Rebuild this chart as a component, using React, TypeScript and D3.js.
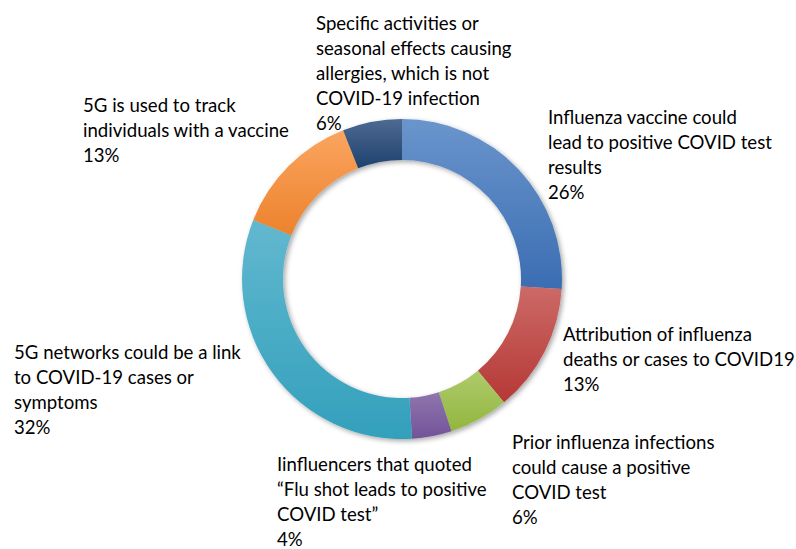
import React, { useEffect, useRef } from "react";
import * as d3 from "d3";

const categories = [
  "Influenza vaccine could lead to positive COVID test results",
  "Attribution of influenza deaths or cases to COVID19",
  "Prior influenza infections could cause a positive COVID test",
  "Iinfluencers that quoted \u201cFlu shot leads to positive COVID test\u201d",
  "5G networks could be a link to COVID-19 cases or symptoms",
  "5G is used to track individuals with a vaccine",
  "Specific activities or seasonal effects causing allergies, which is not COVID-19 infection",
];
const values = [26, 13, 6, 4, 32, 13, 6];

// wrapped label lines as shown in the chart
const labelLines = [
  ["Influenza vaccine could", "lead to positive COVID test", "results"],
  ["Attribution of influenza", "deaths or cases to COVID19"],
  ["Prior influenza infections", "could cause a positive", "COVID test"],
  ["Iinfluencers that quoted", "\u201cFlu shot leads to positive", "COVID test\u201d"],
  ["5G networks could be a link", "to COVID-19 cases or", "symptoms"],
  ["5G is used to track", "individuals with a vaccine"],
  ["Specific activities or", "seasonal effects causing", "allergies, which is not", "COVID-19 infection"],
];

// layout: label box left x and first baseline
const labelPos = [
  [548, 124],
  [563, 341],
  [512, 449],
  [277, 471],
  [14, 359],
  [83, 112],
  [316, 30],
];

const colors = [
  ["#6a95cc", "#3b6db2"],
  ["#cc6a67", "#b53835"],
  ["#aecb6c", "#92b63f"],
  ["#8f76ae", "#735399"],
  ["#62b8cf", "#33a0bc"],
  ["#fba560", "#ec822c"],
  ["#4d6a92", "#1e416e"],
];

export default function App() {
  const ref = useRef<SVGSVGElement>(null);

  useEffect(() => {
    const svg = d3.select(ref.current);
    svg.selectAll("*").remove();

    const cx = 402;
    const cy = 279;
    const outer = 160;
    const inner = 119;

    const data = categories.map((c, i) => ({ name: c, value: values[i], i }));

    const defs = svg.append("defs");
    colors.forEach((c, i) => {
      const g = defs
        .append("linearGradient")
        .attr("id", `grad${i}`)
        .attr("x1", 0)
        .attr("y1", 0)
        .attr("x2", 0)
        .attr("y2", 1);
      g.append("stop").attr("offset", "0%").attr("stop-color", c[0]);
      g.append("stop").attr("offset", "100%").attr("stop-color", c[1]);
    });
    const f = defs
      .append("filter")
      .attr("id", "shadow")
      .attr("x", "-20%")
      .attr("y", "-20%")
      .attr("width", "140%")
      .attr("height", "140%");
    f.append("feDropShadow")
      .attr("dx", 2)
      .attr("dy", 2)
      .attr("stdDeviation", 2.5)
      .attr("flood-color", "#000")
      .attr("flood-opacity", 0.35);

    const pie = d3
      .pie<{ name: string; value: number; i: number }>()
      .sort(null)
      .value((d) => d.value);

    const arc = d3
      .arc<d3.PieArcDatum<{ name: string; value: number; i: number }>>()
      .innerRadius(inner)
      .outerRadius(outer);

    const g = svg
      .append("g")
      .attr("transform", `translate(${cx},${cy})`)
      .attr("filter", "url(#shadow)");

    g.selectAll("path")
      .data(pie(data))
      .enter()
      .append("path")
      .attr("d", arc)
      .attr("fill", (d) => `url(#grad${d.data.i})`);

    const labels = svg
      .append("g")
      .attr("font-family", "Lato, 'Open Sans', sans-serif")
      .attr("font-size", 18.6)
      .attr("fill", "#000");

    data.forEach((d, i) => {
      const [x, y] = labelPos[i];
      const t = labels.append("text").attr("x", x).attr("y", y);
      const lines = [...labelLines[i], `${d.value}%`];
      lines.forEach((line, j) => {
        t.append("tspan")
          .attr("x", x)
          .attr("y", y + j * 25)
          .text(line);
      });
    });
  }, []);

  return (
    <svg
      ref={ref}
      width={796}
      height={549}
      style={{ position: "absolute", left: 0, top: 0, background: "#fff" }}
    />
  );
}
